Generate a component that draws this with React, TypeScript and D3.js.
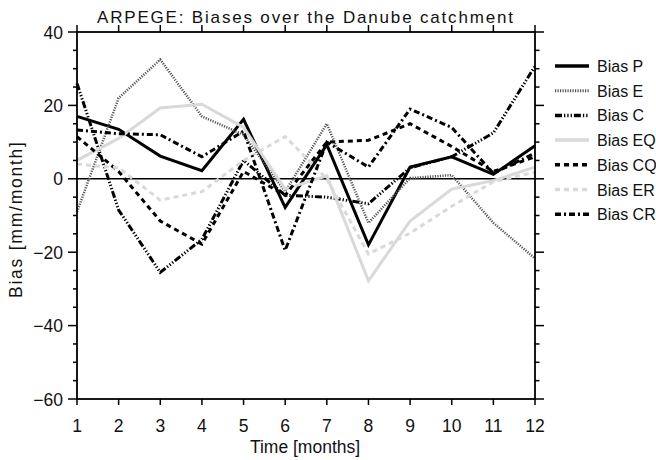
import React from "react";
import * as d3 from "d3";

const months = [1, 2, 3, 4, 5, 6, 7, 8, 9, 10, 11, 12];
const biasP = [17, 13.5, 6.2, 2.2, 16.2, -7.8, 9.3, -18, 3.2, 6, 1.2, 9];
const biasE = [-9, 22, 32.5, 17, 12, -3.5, 15, -12, 0.2, 1, -12, -21.7];
const biasC = [26, -8.5, -25.5, -16.5, 5, -4.5, -5, -6.8, 3, 6, 12.5, 30.7];
const biasEQ = [5, 11, 19.3, 20.3, 14, -2.8, 0.8, -27.8, -11.5, -2.8, -0.5, 3.2];
const biasCQ = [11.5, 2, -11.5, -17.8, 2, -4.5, 10, 10.5, 15, 8.8, 2, 6];
const biasER = [4, 3, -5.8, -3.5, 5, 11.5, 0, -20.5, -14.8, -7.5, -0.8, 1.8];
const biasCR = [13.3, 12.3, 12, 6, 13, -19.5, 10, 3.2, 19, 14, 1.5, 7];

const yTicksMajor = [-60, -40, -20, 0, 20, 40];
const yTicksMinor = d3.range(-60, 41, 5);

const series = [
  { name: "Bias P", values: biasP, color: "#000", width: 3, dash: "" },
  { name: "Bias E", values: biasE, color: "#555", width: 2.5, dash: "1.2 1.3" },
  { name: "Bias C", values: biasC, color: "#000", width: 3, dash: "7 2 1.3 2 1.3 2 1.3 2" },
  { name: "Bias EQ", values: biasEQ, color: "#d9d9d9", width: 3, dash: "" },
  { name: "Bias CQ", values: biasCQ, color: "#000", width: 3, dash: "5 4" },
  { name: "Bias ER", values: biasER, color: "#d9d9d9", width: 3, dash: "5 4" },
  { name: "Bias CR", values: biasCR, color: "#000", width: 3, dash: "6 3 2 3" },
];

const W = 656, H = 460;
const L = 77, R = 535, T = 32, B = 399;
const FONT = "'Liberation Sans', Arial, sans-serif";

export default function App() {
  const x = d3.scaleLinear().domain([1, 12]).range([L, R]);
  const y = d3.scaleLinear().domain([-60, 40]).range([B, T]);
  const line = d3
    .line<number>()
    .x((_, i) => x(months[i]))
    .y((d) => y(d));

  return (
    <svg
      width={W}
      height={H}
      style={{ position: "absolute", left: 0, top: 0, background: "#fff" }}
      fontFamily={FONT}
    >
      <rect x={0} y={0} width={W} height={H} fill="#fff" />
      {/* zero line */}
      <line x1={L} x2={R} y1={y(0)} y2={y(0)} stroke="#000" strokeWidth={1.5} />
      {/* series */}
      {series.map((s) => (
        <path
          key={s.name}
          d={line(s.values) || ""}
          fill="none"
          stroke={s.color}
          strokeWidth={s.width}
          strokeDasharray={s.dash || undefined}
          strokeLinejoin="miter"
        />
      ))}
      {/* frame */}
      <rect x={L} y={T} width={R - L} height={B - T} fill="none" stroke="#000" strokeWidth={1.8} />
      {/* x ticks */}
      {months.map((m) => (
        <g key={"xt" + m}>
          <line x1={x(m)} x2={x(m)} y1={B} y2={B + 6} stroke="#000" strokeWidth={1.5} />
          <line x1={x(m)} x2={x(m)} y1={T} y2={T - 7} stroke="#000" strokeWidth={1.5} />
          <text x={x(m)} y={432} textAnchor="middle" fontSize={17.5} fill="#111">
            {m}
          </text>
        </g>
      ))}
      {/* y ticks */}
      {yTicksMinor.map((v) => {
        const major = yTicksMajor.includes(v);
        return (
          <g key={"yt" + v}>
            <line x1={L} x2={L - (major ? 9 : 4)} y1={y(v)} y2={y(v)} stroke="#000" strokeWidth={1.5} />
            <line x1={R} x2={R + (major ? 9 : 4.5)} y1={y(v)} y2={y(v)} stroke="#000" strokeWidth={1.5} />
          </g>
        );
      })}
      {yTicksMajor.map((v) => (
        <text key={"yl" + v} x={L - 14} y={y(v) + 6.5} textAnchor="end" fontSize={17.5} fill="#111">
          {v < 0 ? "\u2212" + Math.abs(v) : v}
        </text>
      ))}
      {/* axis titles */}
      <text x={305} y={453} textAnchor="middle" fontSize={17.5} fill="#111">
        Time [months]
      </text>
      <text
        transform="translate(22, 220) rotate(-90)"
        textAnchor="middle"
        fontSize={17.5}
        fill="#111"
        textLength={156}
        lengthAdjust="spacing"
      >
        Bias [mm/month]
      </text>
      <text
        x={305}
        y={23}
        textAnchor="middle"
        fontSize={17}
        fill="#111"
        textLength={416}
        lengthAdjust="spacing"
      >
        ARPEGE: Biases over the Danube catchment
      </text>
      {/* legend */}
      {series.map((s, i) => {
        const ly = 66 + i * 24.7;
        return (
          <g key={"lg" + s.name}>
            <line
              x1={555}
              x2={589}
              y1={ly}
              y2={ly}
              stroke={s.color}
              strokeWidth={s.width + 0.5}
              strokeDasharray={s.dash || undefined}
            />
            <text x={597} y={ly + 6} fontSize={16} fill="#111">
              {s.name}
            </text>
          </g>
        );
      })}
    </svg>
  );
}
